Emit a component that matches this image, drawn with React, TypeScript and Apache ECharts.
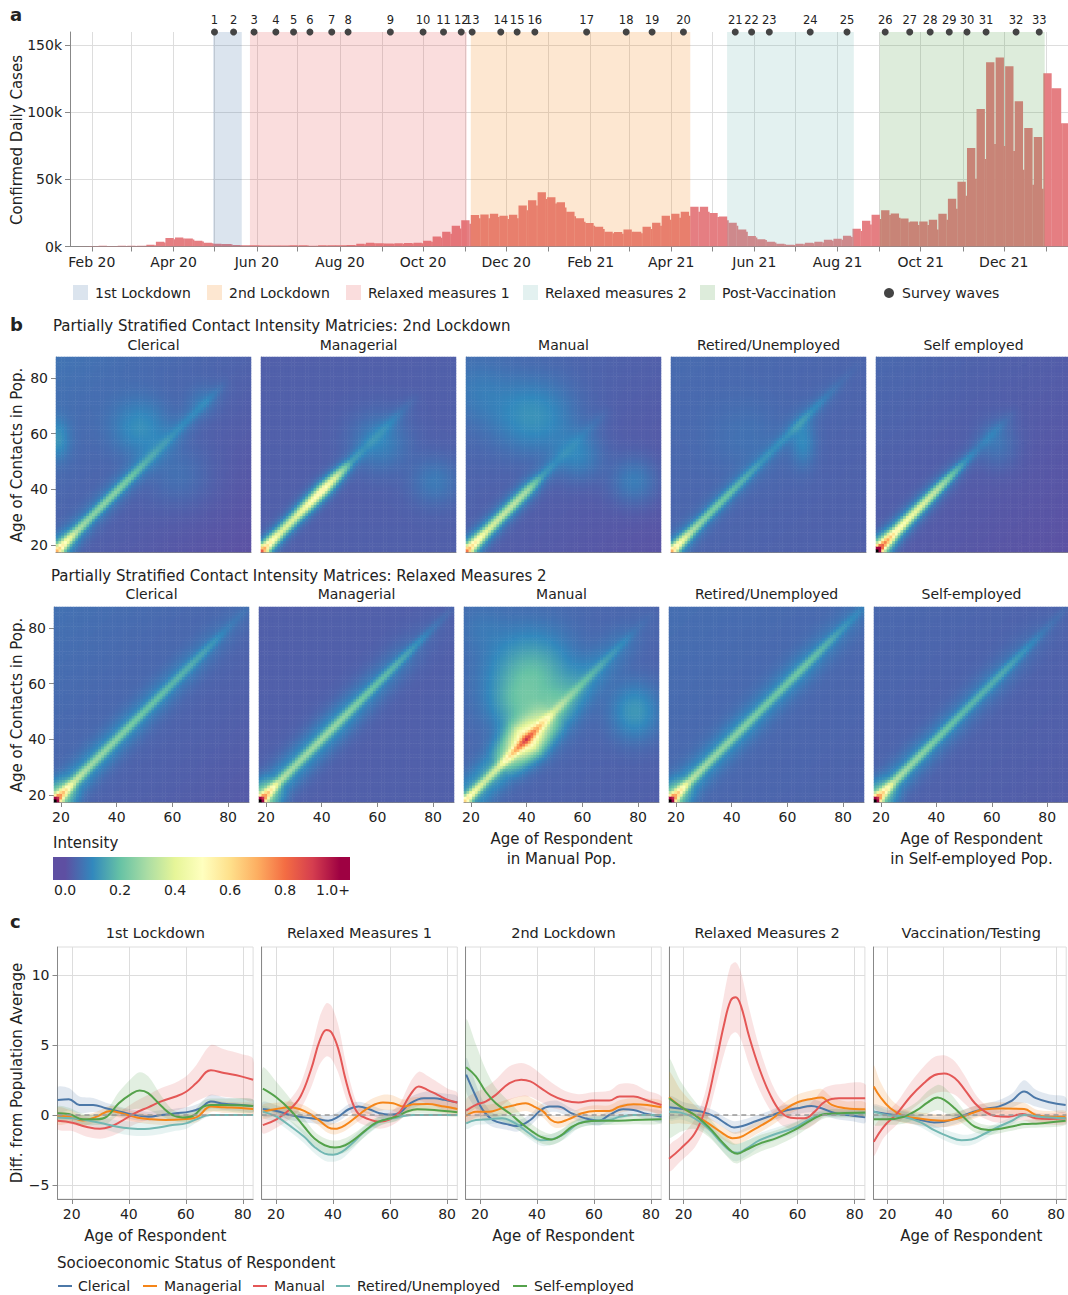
import React, { useEffect, useRef } from 'react';
import * as echarts from 'echarts';

const W = 1068;
const H = 1295;
const FONT = 'DejaVu Sans';
const TXT = '#222';
const AXIS = '#888';
const GRIDC = '#dddddd';
const DAY = 86400000;

// ---------------- Panel a : weekly confirmed daily cases (thousands) ----------------
const WEEK_START = '2020-01-16';
const WEEK_MAIN = [
  0.0, 0.1, 0.4, 0.5, 0.4, 0.5, 0.5, 0.6, 1.3, 3.6,
  6.4, 6.7, 6.0, 4.3, 2.8, 2.1, 1.9, 1.2, 1.0, 0.9,
  0.8, 0.8, 0.8, 0.9, 0.9, 0.5, 0.9, 1.0, 1.0, 1.2,
  2.0, 2.8, 2.5, 2.3, 2.4, 2.6, 2.8, 4.2, 7.5, 11.0,
  15.5, 19.5, 23.5, 23.8, 24.5, 23.0, 23.7, 30.5, 34.5, 40.5,
  36.7, 33.0, 26.0, 21.0, 17.6, 14.8, 11.0, 10.8, 12.6, 11.0,
  14.8, 17.8, 23.0, 24.4, 26.0, 29.6, 29.6, 25.0, 22.4, 17.8,
  12.6, 7.8, 5.5, 3.5, 2.0, 1.3, 2.0, 2.8, 3.5, 5.0,
  5.8, 8.0, 13.3, 19.3, 23.6, 27.0, 24.6, 20.9, 18.6, 18.6,
  20.0, 24.5, 35.6, 48.3, 73.5, 102.5, 137.4, 141.0, 134.4, 108.4,
  88.4, 81.7, 129.2, 118.0, 92.0,
];
const WEEK_LOW = [
  0.0, 0.1, 0.3, 0.4, 0.4, 0.4, 0.4, 0.5, 1.0, 3.0,
  5.5, 6.0, 5.2, 3.8, 2.4, 1.8, 1.6, 1.0, 0.9, 0.8,
  0.7, 0.7, 0.7, 0.8, 0.7, 0.5, 0.8, 0.9, 0.9, 1.0,
  1.7, 2.4, 2.2, 2.0, 2.1, 2.3, 2.5, 3.6, 6.5, 9.5,
  13.5, 17.0, 21.0, 21.0, 22.0, 20.5, 21.0, 27.0, 30.5, 35.5,
  32.0, 29.0, 22.5, 18.5, 15.5, 13.0, 9.8, 9.5, 11.0, 9.8,
  13.0, 15.5, 20.0, 21.5, 23.0, 26.0, 26.0, 22.0, 19.5, 15.5,
  11.0, 6.8, 4.8, 3.0, 1.7, 1.1, 1.7, 2.4, 3.0, 4.3,
  5.0, 7.0, 11.5, 16.5, 20.5, 23.5, 21.5, 18.0, 16.0, 16.0,
  12.6, 20.0, 28.2, 37.9, 50.5, 65.3, 76.5, 75.0, 71.3, 57.2,
  46.0, 43.0, 118.0, 92.0, 92.0,
];
const PERIOD_NAMES = ['1st Lockdown', '2nd Lockdown', 'Relaxed measures 1', 'Relaxed measures 2', 'Post-Vaccination'];
const PERIOD_STARTS = ['2020-04-30', '2020-11-05', '2020-05-27', '2021-05-12', '2021-09-01'];
const PERIOD_ENDS = ['2020-05-21', '2021-04-15', '2020-11-02', '2021-08-13', '2021-12-31'];
const PERIOD_COLORS = ['#4c78a8', '#f58518', '#e45756', '#72b7b2', '#54a24b'];
const WAVE_DATES = [
  '2020-05-01', '2020-05-15', '2020-05-30', '2020-06-15', '2020-06-28', '2020-07-10', '2020-07-26', '2020-08-07',
  '2020-09-07', '2020-10-01', '2020-10-16', '2020-10-29', '2020-11-06', '2020-11-27', '2020-12-09', '2020-12-22',
  '2021-01-29', '2021-02-27', '2021-03-18', '2021-04-10', '2021-05-18', '2021-05-30', '2021-06-12', '2021-07-12',
  '2021-08-08', '2021-09-05', '2021-09-23', '2021-10-08', '2021-10-22', '2021-11-04', '2021-11-18', '2021-12-10',
  '2021-12-27',
];
const CASE_TICKS = [0, 50000, 100000, 150000];
const MONTH_ABBR = ['Jan', 'Feb', 'Mar', 'Apr', 'May', 'Jun', 'Jul', 'Aug', 'Sep', 'Oct', 'Nov', 'Dec'];

// ---------------- Panel b : contact intensity matrices ----------------
const AGES: number[] = [];
for (let a = 18; a <= 87; a++) AGES.push(a);
const AGE_TICKS = [20, 40, 60, 80];
const DIAG_AGES = [18, 19, 20, 25, 30, 35, 40, 45, 50, 55, 60, 65, 70, 75, 80, 87];
const SPECTRAL = ['#5e4fa2', '#3288bd', '#66c2a5', '#abdda4', '#e6f598', '#ffffbf', '#fee08b', '#fdae61', '#f46d43', '#d53e4f', '#9e0142'];

const LD2_CLERICAL = {
  diag: [0.45, 0.4, 0.36, 0.2, 0.16, 0.16, 0.15, 0.12, 0.07, 0.04, 0.03, 0.03, 0.03, 0.02, 0, 0],
  halo: [0.2, 0.18, 0.15, 0.08, 0.06, 0.06, 0.06, 0.05, 0.04, 0.03, 0.03, 0.03, 0.02, 0.01, 0, 0],
  haloW: 4, bg: [0.035, 0.03],
  blobs: [[48, 62, 0.07, 7, 7], [18, 58, 0.07, 3, 5], [70, 72, 0.025, 4, 4], [62, 45, 0.03, 8, 8]],
};
const LD2_MANAGERIAL = {
  diag: [0.55, 0.45, 0.35, 0.22, 0.22, 0.27, 0.3, 0.2, 0.06, 0.02, 0.02, 0.02, 0.01, 0, 0, 0],
  halo: [0.25, 0.22, 0.2, 0.14, 0.14, 0.18, 0.2, 0.12, 0.04, 0.02, 0.02, 0.02, 0.01, 0, 0, 0],
  haloW: 3, bg: [0.03, 0.0],
  blobs: [[60, 57, 0.06, 7, 7], [80, 43, 0.045, 6, 6]],
};
const LD2_MANUAL = {
  diag: [0.55, 0.45, 0.38, 0.25, 0.22, 0.2, 0.16, 0.06, 0.02, 0.01, 0.01, 0.01, 0, 0, 0, 0],
  halo: [0.2, 0.19, 0.18, 0.12, 0.1, 0.1, 0.09, 0.04, 0.02, 0.01, 0.01, 0.01, 0, 0, 0, 0],
  haloW: 3.5, bg: [0.03, 0.02],
  blobs: [[42, 66, 0.08, 10, 9], [58, 52, 0.06, 6, 6], [78, 43, 0.06, 6, 6], [22, 75, 0.03, 8, 8]],
};
const LD2_RETIRED = {
  diag: [0.5, 0.4, 0.35, 0.2, 0.15, 0.13, 0.11, 0.08, 0.05, 0.04, 0.04, 0.05, 0.04, 0.02, 0.01, 0],
  halo: [0.15, 0.13, 0.12, 0.07, 0.05, 0.05, 0.04, 0.03, 0.02, 0.02, 0.02, 0.02, 0.02, 0.01, 0, 0],
  haloW: 3.5, bg: [0.04, 0.01],
  blobs: [[65, 57, 0.06, 3, 6], [45, 58, 0.02, 10, 10]],
};
const LD2_SELF = {
  diag: [1.3, 0.65, 0.5, 0.35, 0.3, 0.26, 0.22, 0.14, 0.06, 0.02, 0.02, 0.01, 0, 0, 0, 0],
  halo: [0.4, 0.35, 0.3, 0.15, 0.12, 0.1, 0.08, 0.05, 0.03, 0.02, 0.02, 0.01, 0, 0, 0, 0],
  haloW: 3.5, bg: [0.025, 0.02],
  blobs: [[62, 56, 0.04, 5, 6]],
};
const RM2_CLERICAL = {
  diag: [1.3, 0.6, 0.45, 0.22, 0.17, 0.15, 0.14, 0.12, 0.11, 0.1, 0.09, 0.08, 0.07, 0.05, 0.02, 0.01],
  halo: [0.35, 0.3, 0.25, 0.1, 0.08, 0.08, 0.07, 0.07, 0.06, 0.06, 0.05, 0.05, 0.04, 0.03, 0.02, 0.01],
  haloW: 5, bg: [0.04, 0.02], blobs: [],
};
const RM2_MANAGERIAL = {
  diag: [1.3, 0.6, 0.45, 0.2, 0.16, 0.16, 0.16, 0.15, 0.14, 0.12, 0.11, 0.1, 0.08, 0.06, 0.03, 0.01],
  halo: [0.35, 0.3, 0.25, 0.1, 0.09, 0.09, 0.09, 0.09, 0.08, 0.07, 0.06, 0.05, 0.04, 0.02, 0.01, 0],
  haloW: 5.5, bg: [0.03, 0.0], blobs: [],
};
const RM2_MANUAL = {
  diag: [0.45, 0.4, 0.35, 0.22, 0.22, 0.3, 0.3, 0.25, 0.14, 0.1, 0.08, 0.07, 0.05, 0.03, 0.01, 0],
  halo: [0.12, 0.11, 0.1, 0.1, 0.12, 0.3, 0.55, 0.3, 0.12, 0.08, 0.06, 0.05, 0.04, 0.03, 0.01, 0],
  haloW: 6, bg: [0.04, 0.01],
  blobs: [[42, 61, 0.16, 10, 11], [36, 52, 0.05, 6, 6], [79, 50, 0.09, 6, 7], [24, 80, 0.02, 6, 6]],
};
const RM2_RETIRED = {
  diag: [1.3, 0.6, 0.45, 0.2, 0.17, 0.15, 0.14, 0.13, 0.12, 0.11, 0.11, 0.11, 0.1, 0.08, 0.05, 0.02],
  halo: [0.35, 0.3, 0.22, 0.09, 0.07, 0.07, 0.07, 0.07, 0.06, 0.06, 0.06, 0.06, 0.05, 0.04, 0.03, 0.02],
  haloW: 5, bg: [0.045, 0.01], blobs: [],
};
const RM2_SELF = {
  diag: [1.3, 0.6, 0.45, 0.2, 0.17, 0.15, 0.13, 0.11, 0.1, 0.09, 0.08, 0.08, 0.06, 0.04, 0.02, 0.01],
  halo: [0.35, 0.3, 0.22, 0.09, 0.07, 0.07, 0.06, 0.06, 0.05, 0.05, 0.05, 0.04, 0.03, 0.02, 0.01, 0],
  haloW: 5, bg: [0.035, 0.01], blobs: [],
};
const ROW1_TITLES = ['Clerical', 'Managerial', 'Manual', 'Retired/Unemployed', 'Self employed'];
const ROW2_TITLES = ['Clerical', 'Managerial', 'Manual', 'Retired/Unemployed', 'Self-employed'];
const COLORBAR_TICKS = ['0.0', '0.2', '0.4', '0.6', '0.8', '1.0+'];

// ---------------- Panel c : difference from population average ----------------
// [age, value, half-width of band]
const L1_CLERICAL = [[15, 1.08, 0.9], [19, 1.13, 0.8], [22.7, 0.72, 0.6], [27.5, 0.72, 0.5], [32, 0.48, 0.4], [37, 0.24, 0.35], [42, 0.0, 0.35], [47, -0.12, 0.35], [51.6, 0.0, 0.35], [56.5, 0.12, 0.35], [61.3, 0.24, 0.35], [65, 0.48, 0.4], [68.8, 0.96, 0.5], [73.5, 0.8, 0.45], [79.4, 0.72, 0.45], [83.6, 0.65, 0.45]];
const L1_MANAGERIAL = [[15, -0.07, 0.6], [19, -0.12, 0.5], [23.9, -0.4, 0.4], [28.7, -0.12, 0.35], [33.5, 0.29, 0.35], [38.4, 0.07, 0.35], [43.2, -0.19, 0.35], [48, -0.31, 0.35], [52.9, -0.36, 0.35], [58.9, -0.31, 0.35], [63.7, -0.17, 0.35], [68.8, 0.6, 0.4], [73.4, 0.55, 0.4], [79.4, 0.5, 0.4], [83.6, 0.43, 0.4]];
const L1_MANUAL = [[15, -0.41, 0.6], [20.2, -0.55, 0.6], [25, -0.84, 0.7], [29.9, -0.99, 0.7], [33.5, -0.84, 0.7], [37.1, -0.48, 0.75], [42, 0.12, 0.8], [46.8, 0.55, 0.9], [51.6, 0.99, 0.95], [56.5, 1.32, 1.0], [60.1, 1.66, 1.1], [63.7, 2.28, 1.3], [68.8, 3.2, 1.8], [73.4, 3.0, 1.7], [79.4, 2.76, 1.6], [83.6, 2.52, 1.5]];
const L1_RETIRED = [[15, -0.17, 0.3], [20.2, -0.24, 0.3], [26.3, -0.41, 0.35], [31.1, -0.6, 0.4], [36, -0.84, 0.45], [40.8, -0.96, 0.5], [45.6, -1.0, 0.5], [50.4, -0.89, 0.5], [55.3, -0.72, 0.45], [60, -0.6, 0.4], [63.7, -0.31, 0.25], [68.5, 0.0, 0.05], [73.4, 0.0, 0.05], [83.6, 0.0, 0.05]];
const L1_SELF = [[15, 0.12, 0.5], [19, 0.07, 0.45], [23.9, -0.31, 0.4], [28.7, -0.31, 0.4], [32.3, -0.12, 0.5], [36.5, 0.84, 0.8], [40.8, 1.49, 1.1], [43.8, 1.75, 1.3], [46.8, 1.56, 1.2], [51.6, 0.6, 0.7], [55.3, 0.0, 0.4], [58.9, -0.17, 0.35], [62.5, -0.07, 0.35], [66.1, 0.6, 0.4], [68.8, 0.72, 0.45], [73.4, 0.72, 0.45], [83.6, 0.65, 0.45]];

const R1_CLERICAL = [[15.4, 0.43, 0.5], [20.2, 0.29, 0.4], [25, 0.0, 0.35], [29.9, -0.17, 0.35], [34.7, -0.29, 0.35], [38.3, -0.41, 0.35], [41.9, -0.12, 0.35], [45.5, 0.41, 0.35], [49, 0.6, 0.35], [52.7, 0.41, 0.35], [56.3, 0.12, 0.35], [60, 0.02, 0.35], [63.5, 0.17, 0.4], [67.1, 0.84, 0.45], [71.9, 1.2, 0.45], [75.5, 1.2, 0.45], [79.1, 1.08, 0.45], [83.6, 0.89, 0.45]];
const R1_MANAGERIAL = [[15.4, 0.24, 0.5], [20.2, 0.43, 0.45], [25, 0.55, 0.4], [29.9, 0.29, 0.4], [34.7, -0.31, 0.4], [38.3, -0.89, 0.4], [40.7, -0.99, 0.4], [44.3, -0.72, 0.4], [49, 0.0, 0.45], [52.7, 0.55, 0.5], [57.5, 0.89, 0.55], [61.1, 0.84, 0.55], [64.7, 0.6, 0.5], [68.3, 0.77, 0.5], [73.1, 0.79, 0.5], [79.1, 0.6, 0.45], [83.6, 0.43, 0.45]];
const R1_MANUAL = [[15.4, -0.72, 0.6], [20.2, -0.31, 0.6], [25, 0.43, 0.7], [28.6, 1.32, 0.9], [32.3, 3.25, 1.3], [35.3, 5.29, 1.7], [37.7, 6.08, 1.9], [39.5, 5.89, 1.9], [41.9, 4.69, 1.7], [44.3, 2.64, 1.3], [46.7, 0.96, 0.9], [49, 0.07, 0.6], [52.7, -0.31, 0.5], [56.3, -0.48, 0.5], [60, -0.31, 0.5], [63.5, 0.24, 0.6], [67.1, 1.44, 0.9], [70.1, 2.04, 1.05], [73.1, 1.8, 1.0], [76.7, 1.44, 0.9], [80.3, 1.08, 0.8], [83.6, 0.89, 0.7]];
const R1_RETIRED = [[15.4, 0.24, 0.4], [20.2, -0.12, 0.4], [25, -0.79, 0.4], [29.9, -1.56, 0.45], [33.5, -2.28, 0.45], [37.1, -2.76, 0.5], [40.1, -2.84, 0.5], [43.1, -2.64, 0.5], [46.7, -2.04, 0.45], [50.3, -1.32, 0.4], [53.9, -0.77, 0.35], [57.5, -0.36, 0.3], [61.1, -0.24, 0.25], [64.7, -0.07, 0.1], [68.3, 0.0, 0.05], [83.6, 0.0, 0.05]];
const R1_SELF = [[15.4, 1.88, 1.5], [20.2, 1.25, 1.1], [25, 0.36, 0.8], [29.9, -0.84, 0.6], [33.5, -1.68, 0.5], [37.1, -2.16, 0.5], [40.7, -2.33, 0.5], [44.3, -2.16, 0.5], [47.9, -1.68, 0.45], [51.5, -1.08, 0.4], [55.1, -0.55, 0.35], [58.7, -0.31, 0.3], [62.3, -0.12, 0.3], [65.9, 0.24, 0.3], [69.5, 0.41, 0.3], [75.5, 0.36, 0.3], [83.6, 0.19, 0.3]];

const L2_CLERICAL = [[15.2, 2.88, 1.2], [18.6, 1.32, 0.9], [21, 0.36, 0.7], [24.6, -0.36, 0.5], [29.4, -0.65, 0.4], [33, -0.79, 0.4], [37.7, -0.36, 0.4], [41.4, 0.36, 0.4], [44.5, 0.6, 0.4], [47.4, 0.6, 0.4], [52.2, 0.12, 0.35], [57, -0.24, 0.35], [61.8, -0.41, 0.35], [65.4, 0.0, 0.35], [70.3, 0.41, 0.4], [73.9, 0.36, 0.4], [78.7, 0.07, 0.4], [83.7, -0.12, 0.4]];
const L2_MANAGERIAL = [[15.2, -0.07, 0.5], [18.6, 0.24, 0.5], [23.2, 0.24, 0.5], [27.8, 0.48, 0.5], [32.5, 0.72, 0.55], [36.1, 0.84, 0.55], [39, 0.6, 0.5], [42.3, 0.24, 0.45], [45, -0.36, 0.4], [47.4, -0.53, 0.4], [51, -0.31, 0.4], [55.8, 0.12, 0.4], [60.6, 0.29, 0.4], [65.4, 0.29, 0.4], [69, 0.6, 0.45], [73.9, 0.77, 0.45], [78.7, 0.72, 0.45], [83.7, 0.55, 0.45]];
const L2_MANUAL = [[15.2, 0.31, 0.8], [18.6, 0.72, 0.9], [22, 0.96, 1.0], [25.6, 1.44, 1.1], [30.4, 2.28, 1.2], [34.5, 2.52, 1.2], [37.7, 2.4, 1.1], [41.4, 1.92, 1.0], [45, 1.44, 0.9], [49.8, 1.03, 0.7], [54.6, 0.89, 0.6], [59.4, 1.03, 0.6], [65.4, 1.03, 0.7], [69, 1.32, 0.9], [73.9, 1.32, 0.9], [78.7, 1.03, 0.7], [83.7, 0.72, 0.6]];
const L2_RETIRED = [[15.2, -0.6, 0.4], [18.6, -0.36, 0.35], [23.2, -0.31, 0.35], [27.8, -0.24, 0.35], [32.5, -0.6, 0.35], [37.4, -1.32, 0.4], [41.4, -1.8, 0.4], [45, -1.75, 0.4], [49.8, -1.32, 0.4], [54.6, -0.6, 0.35], [59.4, -0.41, 0.3], [65.4, -0.36, 0.3], [69, -0.12, 0.2], [73.9, 0.0, 0.05], [83.7, 0.0, 0.05]];
const L2_SELF = [[15.2, 3.41, 3.4], [18.6, 2.76, 2.3], [22, 1.68, 1.6], [25.6, 0.84, 1.1], [30.4, 0.12, 0.8], [35.3, -0.72, 0.6], [38.5, -1.2, 0.5], [41.4, -1.56, 0.45], [45, -1.75, 0.4], [48.6, -1.44, 0.4], [52.2, -0.84, 0.35], [57, -0.48, 0.3], [61.8, -0.41, 0.3], [66.6, -0.41, 0.3], [73.9, -0.36, 0.3], [83.7, -0.31, 0.3]];

const R2_CLERICAL = [[14.9, 0.55, 0.8], [20.2, 0.41, 0.5], [26.3, 0.24, 0.4], [31.1, -0.12, 0.4], [34.7, -0.6, 0.4], [37.7, -0.89, 0.45], [40.7, -0.79, 0.45], [45.5, -0.43, 0.4], [50.4, -0.07, 0.4], [55.2, 0.29, 0.4], [60, 0.48, 0.4], [64.8, 0.65, 0.45], [68.4, 0.48, 0.45], [73.3, 0.12, 0.4], [79.3, -0.05, 0.4], [83.7, -0.17, 0.4]];
const R2_MANAGERIAL = [[14.9, 1.27, 1.8], [19, 0.6, 1.2], [23.9, 0.0, 0.7], [28.7, -0.6, 0.5], [33.5, -1.27, 0.45], [37.1, -1.66, 0.45], [39.5, -1.61, 0.45], [44.3, -1.08, 0.45], [50.4, -0.36, 0.45], [55.2, 0.36, 0.5], [60, 0.91, 0.55], [64.8, 1.15, 0.6], [68.4, 1.25, 0.6], [72, 0.72, 0.55], [76.9, 0.48, 0.5], [83.7, 0.41, 0.5]];
const R2_MANUAL = [[14.9, -3.13, 0.9], [19, -2.4, 0.9], [23.9, -1.32, 1.0], [27.5, 0.36, 1.2], [31.1, 3.49, 1.6], [34.1, 6.37, 2.1], [36.5, 8.17, 2.5], [38.3, 8.41, 2.5], [40.1, 7.81, 2.4], [43.1, 5.53, 2.0], [46.7, 3.25, 1.5], [50.4, 1.44, 1.1], [54, 0.24, 0.9], [57.6, -0.19, 0.8], [62.4, -0.24, 0.8], [66, 0.24, 0.9], [69.6, 0.96, 1.0], [74.5, 1.2, 1.0], [83.7, 1.2, 1.0]];
const R2_RETIRED = [[14.9, 0.24, 0.6], [19, 0.17, 0.5], [23.9, -0.24, 0.45], [28.7, -0.96, 0.45], [33.5, -2.04, 0.5], [37.1, -2.64, 0.6], [38.9, -2.69, 0.6], [42, -2.4, 0.55], [46.7, -1.8, 0.5], [52.8, -1.32, 0.45], [58.8, -0.91, 0.4], [64.8, -0.24, 0.3], [69.6, 0.05, 0.2], [74.5, 0.07, 0.2], [83.7, 0.12, 0.2]];
const R2_SELF = [[14.9, 1.2, 2.8], [19, 0.6, 1.8], [23.9, 0.0, 1.0], [28.7, -0.84, 0.7], [33.5, -1.92, 0.65], [37.1, -2.64, 0.7], [38.9, -2.76, 0.7], [42, -2.48, 0.65], [46.7, -2.04, 0.6], [52.8, -1.63, 0.55], [58.8, -1.08, 0.5], [64.8, -0.36, 0.4], [69.6, 0.07, 0.3], [74.5, 0.12, 0.3], [83.7, 0.17, 0.3]];

const VT_CLERICAL = [[15.1, 0.24, 0.5], [19.8, 0.07, 0.45], [25.8, -0.12, 0.4], [31.8, -0.36, 0.4], [36.6, -0.53, 0.4], [40.2, -0.48, 0.4], [45.1, -0.17, 0.4], [49.9, 0.19, 0.4], [54.7, 0.43, 0.4], [59.5, 0.6, 0.45], [64.3, 1.03, 0.5], [68.6, 1.68, 0.8], [72.8, 1.2, 0.6], [77.6, 0.91, 0.55], [83.4, 0.72, 0.55]];
const VT_MANAGERIAL = [[15.1, 2.04, 1.5], [17.3, 1.32, 1.1], [21, 0.48, 0.7], [25.8, -0.07, 0.5], [30.6, -0.24, 0.45], [35.4, -0.36, 0.45], [40.2, -0.41, 0.45], [45.1, -0.24, 0.45], [49.9, 0.12, 0.45], [54.7, 0.41, 0.45], [60.7, 0.46, 0.45], [68.6, 0.43, 0.45], [72.8, 0.0, 0.4], [77.6, -0.12, 0.4], [83.4, -0.12, 0.4]];
const VT_MANUAL = [[15.1, -1.92, 1.0], [18.6, -0.84, 0.8], [23.4, 0.12, 0.8], [28.2, 1.32, 1.0], [33, 2.28, 1.2], [36.6, 2.84, 1.3], [40.2, 2.96, 1.3], [43.9, 2.64, 1.2], [47.5, 1.8, 1.0], [51.1, 0.84, 0.7], [54.7, 0.24, 0.5], [58.3, -0.07, 0.45], [63.1, -0.12, 0.45], [68, 0.07, 0.45], [72.8, -0.24, 0.4], [77.6, -0.29, 0.4], [83.4, -0.24, 0.4]];
const VT_RETIRED = [[15.1, 0.24, 0.4], [19.8, 0.0, 0.35], [25.8, -0.12, 0.35], [31.8, -0.53, 0.35], [36.6, -1.08, 0.35], [41.4, -1.51, 0.4], [46.3, -1.8, 0.4], [49.9, -1.75, 0.4], [54.7, -1.32, 0.35], [59.5, -0.84, 0.3], [64.3, -0.41, 0.25], [68.6, 0.0, 0.15], [74, -0.12, 0.15], [83.4, -0.24, 0.15]];
const VT_SELF = [[15.1, -0.31, 0.4], [19.8, -0.31, 0.4], [25.8, -0.12, 0.5], [30.6, 0.36, 0.6], [34.2, 0.89, 0.8], [37.8, 1.25, 0.9], [40.2, 1.08, 0.9], [43.9, 0.48, 0.7], [47.5, -0.24, 0.5], [51.1, -0.84, 0.4], [55.9, -1.08, 0.35], [60.7, -0.96, 0.3], [65.5, -0.77, 0.3], [68.6, -0.65, 0.3], [74, -0.6, 0.3], [83.4, -0.41, 0.3]];

const C_TITLES = ['1st Lockdown', 'Relaxed Measures 1', '2nd Lockdown', 'Relaxed Measures 2', 'Vaccination/Testing'];
const SES_NAMES = ['Clerical', 'Managerial', 'Manual', 'Retired/Unemployed', 'Self-employed'];
const SES_COLORS = ['#4c78a8', '#f58518', '#e45756', '#72b7b2', '#54a24b'];
const DIFF_TICKS = [-5, 0, 5, 10];

// ---------------- helpers ----------------
function toTime(s: string) {
  const [y, m, d] = s.split('-').map(Number);
  return new Date(y, m - 1, d).getTime();
}
function rgba(hex: string, a: number) {
  const n = parseInt(hex.slice(1), 16);
  return `rgba(${(n >> 16) & 255},${(n >> 8) & 255},${n & 255},${a})`;
}
function lerp(xs: number[], ys: number[], x: number) {
  if (x <= xs[0]) return ys[0];
  for (let i = 1; i < xs.length; i++) {
    if (x <= xs[i]) {
      const t = (x - xs[i - 1]) / (xs[i] - xs[i - 1]);
      return ys[i - 1] + t * (ys[i] - ys[i - 1]);
    }
  }
  return ys[ys.length - 1];
}
const NARROW_W = 1.5;
function heatData(p: any) {
  const out: number[][] = [];
  for (let i = 0; i < AGES.length; i++) {
    for (let j = 0; j < AGES.length; j++) {
      const x = AGES[i], y = AGES[j];
      const m = (x + y) / 2, d = x - y;
      let v = p.bg[0] + p.bg[1] * (y - x) / 69;
      v += lerp(DIAG_AGES, p.diag, m) * Math.exp(-(d * d) / (2 * NARROW_W * NARROW_W));
      v += lerp(DIAG_AGES, p.halo, m) * Math.exp(-(d * d) / (2 * p.haloW * p.haloW));
      for (const b of p.blobs) {
        v += b[2] * Math.exp(-((x - b[0]) ** 2) / (2 * b[3] * b[3]) - ((y - b[1]) ** 2) / (2 * b[4] * b[4]));
      }
      if (v < 0) v = 0;
      if (v > 1 && v < 1.2) v = 1;
      if (v >= 1.2) v = 1.2;
      out.push([i, j, +v.toFixed(4)]);
    }
  }
  return out;
}

function buildOption() {
  const T0 = toTime(WEEK_START);
  const T1 = T0 + 732.1 * DAY;
  const monthTicks: number[] = [];
  const monthLabels: number[] = [];
  for (let i = 0; i < 24; i++) {
    const t = new Date(2020, 1 + i, 1).getTime();
    monthTicks.push(t);
    if (i % 2 === 0) monthLabels.push(t);
  }
  const fmtMonth = (v: number) => {
    const dt = new Date(v);
    return MONTH_ABBR[dt.getMonth()] + ' ' + String(dt.getFullYear()).slice(2);
  };

  const grid: any[] = [];
  const xAxis: any[] = [];
  const yAxis: any[] = [];
  const series: any[] = [];
  const graphic: any[] = [];
  const lbl = { fontFamily: FONT, fontSize: 14, color: TXT };

  // ---- Panel a ----
  grid.push({ left: 70, top: 32, width: 998, height: 214.5 });
  xAxis.push({
    type: 'value', gridIndex: 0, min: T0, max: T1,
    axisLine: { show: true, onZero: false, lineStyle: { color: AXIS } },
    axisTick: { show: true, length: 5, customValues: monthTicks, lineStyle: { color: AXIS } },
    axisLabel: { ...lbl, margin: 8, customValues: monthLabels, formatter: fmtMonth },
    splitLine: { show: true, lineStyle: { color: GRIDC } },
  });
  yAxis.push({
    type: 'value', gridIndex: 0, min: 0, max: 160000,
    axisLine: { show: true, onZero: false, lineStyle: { color: AXIS } },
    axisTick: { show: true, length: 5, customValues: CASE_TICKS, lineStyle: { color: AXIS } },
    axisLabel: { ...lbl, margin: 8, customValues: CASE_TICKS, formatter: (v: number) => v / 1000 + 'k' },
    splitLine: { show: true, lineStyle: { color: GRIDC } },
  });
  const BAR_COLOR = '#e57e82';
  series.push({
    type: 'custom', xAxisIndex: 0, yAxisIndex: 0, z: 2, clip: true, silent: true,
    data: WEEK_MAIN.map((v, k) => [T0 + k * 7 * DAY, v * 1000, WEEK_LOW[k] * 1000]),
    encode: { x: 0, y: 1 },
    renderItem: (params: any, api: any) => {
      const t = api.value(0), hi = api.value(1), lo = api.value(2);
      const base = api.coord([t, 0]);
      const a = api.coord([t + 5.9 * DAY, hi]);
      const b = api.coord([t + 7 * DAY, lo]);
      return {
        type: 'group',
        children: [
          { type: 'rect', shape: { x: base[0], y: a[1], width: a[0] - base[0] + 0.3, height: base[1] - a[1] }, style: { fill: BAR_COLOR } },
          { type: 'rect', shape: { x: a[0], y: b[1], width: b[0] - a[0] + 0.3, height: base[1] - b[1] }, style: { fill: BAR_COLOR } },
        ],
      };
    },
  });
  // period shading drawn over the bars
  series.push({
    type: 'custom', xAxisIndex: 0, yAxisIndex: 0, z: 5, clip: true, silent: true,
    data: PERIOD_STARTS.map((s, i) => [toTime(s), toTime(PERIOD_ENDS[i]), i]),
    encode: { x: [0, 1] },
    renderItem: (params: any, api: any) => {
      const a = api.coord([api.value(0), 160000]);
      const b = api.coord([api.value(1), 0]);
      return {
        type: 'rect', shape: { x: a[0], y: a[1], width: b[0] - a[0], height: b[1] - a[1] },
        style: { fill: rgba(PERIOD_COLORS[api.value(2)], 0.2) },
      };
    },
  });
  series.push({
    type: 'scatter', xAxisIndex: 0, yAxisIndex: 0, z: 6, clip: false, symbolSize: 7, silent: true,
    itemStyle: { color: '#444', opacity: 1 },
    label: { show: true, position: 'top', distance: 3, fontFamily: FONT, fontSize: 11.5, color: TXT, formatter: (p: any) => String(p.data[2]) },
    data: WAVE_DATES.map((s, i) => [toTime(s), 160000, i + 1]),
  });

  // ---- Panel b ----
  const heatPanels = [
    [LD2_CLERICAL, LD2_MANAGERIAL, LD2_MANUAL, LD2_RETIRED, LD2_SELF],
    [RM2_CLERICAL, RM2_MANAGERIAL, RM2_MANUAL, RM2_RETIRED, RM2_SELF],
  ];
  const tickFn = (idx: number, val: any) => AGE_TICKS.includes(Number(val));
  const heatSeriesIdx: number[] = [];
  heatPanels.forEach((row, r) => {
    const top = r === 0 ? 357 : 607;
    const lefts = r === 0 ? [56, 261, 466, 671, 876] : [54, 259, 464, 669, 874];
    row.forEach((p, c) => {
      const gi = grid.length;
      grid.push({ left: lefts[c], top, width: 195, height: 195 });
      xAxis.push({
        type: 'category', gridIndex: gi, data: AGES, boundaryGap: true,
        axisLine: { show: true, lineStyle: { color: AXIS } },
        axisTick: { show: r === 1, interval: tickFn, alignWithLabel: true, length: 5, lineStyle: { color: AXIS } },
        axisLabel: { show: r === 1, interval: tickFn, ...lbl, margin: 8 },
        splitLine: { show: false },
      });
      yAxis.push({
        type: 'category', gridIndex: gi, data: AGES, boundaryGap: true,
        axisLine: { show: true, lineStyle: { color: AXIS } },
        axisTick: { show: c === 0, interval: tickFn, alignWithLabel: true, length: 5, lineStyle: { color: AXIS } },
        axisLabel: { show: c === 0, interval: tickFn, ...lbl, margin: 8 },
        splitLine: { show: false },
      });
      heatSeriesIdx.push(series.length);
      series.push({
        type: 'heatmap', xAxisIndex: gi, yAxisIndex: gi, data: heatData(p),
        progressive: 0, silent: true, emphasis: { disabled: true }, itemStyle: { borderWidth: 0 },
      });
    });
  });

  // ---- Panel c ----
  const panelC = [
    [L1_CLERICAL, L1_MANAGERIAL, L1_MANUAL, L1_RETIRED, L1_SELF],
    [R1_CLERICAL, R1_MANAGERIAL, R1_MANUAL, R1_RETIRED, R1_SELF],
    [L2_CLERICAL, L2_MANAGERIAL, L2_MANUAL, L2_RETIRED, L2_SELF],
    [R2_CLERICAL, R2_MANAGERIAL, R2_MANUAL, R2_RETIRED, R2_SELF],
    [VT_CLERICAL, VT_MANAGERIAL, VT_MANUAL, VT_RETIRED, VT_SELF],
  ];
  const cLefts = [57.5, 261.7, 465.6, 669.3, 873.5];
  panelC.forEach((panel, g) => {
    const gi = grid.length;
    grid.push({ left: cLefts[g], top: 947, width: 195.6, height: 252, show: true, borderColor: '#dddddd', borderWidth: 1 });
    xAxis.push({
      type: 'value', gridIndex: gi, min: 15, max: 83.6,
      axisLine: { show: true, onZero: false, lineStyle: { color: AXIS } },
      axisTick: { show: true, length: 5, customValues: AGE_TICKS, lineStyle: { color: AXIS } },
      axisLabel: { ...lbl, margin: 8, customValues: AGE_TICKS },
      splitLine: { show: true, lineStyle: { color: GRIDC } },
    });
    yAxis.push({
      type: 'value', gridIndex: gi, min: -6, max: 12,
      axisLine: { show: true, onZero: false, lineStyle: { color: AXIS } },
      axisTick: { show: g === 0, length: 5, customValues: DIFF_TICKS, lineStyle: { color: AXIS } },
      axisLabel: {
        show: g === 0, ...lbl, margin: 8, customValues: DIFF_TICKS,
        formatter: (v: number) => (v < 0 ? '\u2212' + Math.abs(v) : String(v)),
      },
      splitLine: { show: true, lineStyle: { color: GRIDC } },
    });
    series.push({
      type: 'line', xAxisIndex: gi, yAxisIndex: gi, data: [], z: 3, silent: true,
      markLine: {
        silent: true, symbol: 'none', label: { show: false },
        lineStyle: { color: '#999', type: [5, 4], width: 1.5 },
        data: [{ yAxis: 0 }],
      },
    });
    panel.forEach((arr, s) => {
      series.push({
        type: 'custom', xAxisIndex: gi, yAxisIndex: gi, z: 2, silent: true, clip: true,
        data: [[arr[0][0], arr[0][1]]],
        encode: { x: 0, y: 1 },
        renderItem: (params: any, api: any) => {
          const up = arr.map((d) => api.coord([d[0], d[1] + d[2]]));
          const lo = arr.map((d) => api.coord([d[0], d[1] - d[2]])).reverse();
          return {
            type: 'polygon',
            shape: { points: up.concat(lo), smooth: 0.3 },
            style: { fill: rgba(SES_COLORS[s], 0.17) },
          };
        },
      });
    });
    panel.forEach((arr, s) => {
      series.push({
        type: 'line', xAxisIndex: gi, yAxisIndex: gi, smooth: 0.4, symbol: 'none', silent: true, z: 4,
        lineStyle: { color: SES_COLORS[s], width: 2 },
        data: arr.map((d) => [d[0], d[1]]),
      });
    });
  });

  // ---- Graphic texts ----
  const text = (t: string, x: number, y: number, opts: any = {}) => ({
    type: 'text', x, y, rotation: opts.rotation || 0, silent: true,
    style: {
      text: t, fill: TXT, fontFamily: FONT, fontSize: opts.size || 14, fontWeight: opts.weight || 'normal',
      align: opts.align || 'left', verticalAlign: 'middle',
    },
  });
  graphic.push(text('a', 10, 14, { size: 18, weight: 'bold' }));
  graphic.push(text('b', 10, 324, { size: 18, weight: 'bold' }));
  graphic.push(text('c', 10, 921, { size: 18, weight: 'bold' }));
  graphic.push(text('Confirmed Daily Cases', 17, 140, { size: 15, align: 'center', rotation: Math.PI / 2 }));

  // legend a
  const legA = [
    { i: 0, sx: 73, tx: 95 },
    { i: 1, sx: 207, tx: 229 },
    { i: 2, sx: 346, tx: 368 },
    { i: 3, sx: 523, tx: 545 },
    { i: 4, sx: 700, tx: 722 },
  ];
  legA.forEach((l) => {
    graphic.push({ type: 'rect', silent: true, shape: { x: l.sx, y: 285, width: 15, height: 15 }, style: { fill: rgba(PERIOD_COLORS[l.i], 0.2) } });
    graphic.push(text(PERIOD_NAMES[l.i], l.tx, 293));
  });
  graphic.push({ type: 'circle', silent: true, shape: { cx: 889, cy: 293, r: 5 }, style: { fill: '#444' } });
  graphic.push(text('Survey waves', 902, 293));

  // panel b texts
  graphic.push(text('Partially Stratified Contact Intensity Matricies: 2nd Lockdown', 53, 326, { size: 15 }));
  graphic.push(text('Partially Stratified Contact Intensity Matrices: Relaxed Measures 2', 51, 576, { size: 15 }));
  ROW1_TITLES.forEach((t, c) => graphic.push(text(t, [56, 261, 466, 671, 876][c] + 97.5, 345, { align: 'center' })));
  ROW2_TITLES.forEach((t, c) => graphic.push(text(t, [54, 259, 464, 669, 874][c] + 97.5, 594, { align: 'center' })));
  graphic.push(text('Age of Contacts in Pop.', 17, 455, { size: 15, align: 'center', rotation: Math.PI / 2 }));
  graphic.push(text('Age of Contacts in Pop.', 17, 705, { size: 15, align: 'center', rotation: Math.PI / 2 }));
  graphic.push(text('Age of Respondent', 561.5, 839, { size: 15, align: 'center' }));
  graphic.push(text('in Manual Pop.', 561.5, 859, { size: 15, align: 'center' }));
  graphic.push(text('Age of Respondent', 971.5, 839, { size: 15, align: 'center' }));
  graphic.push(text('in Self-employed Pop.', 971.5, 859, { size: 15, align: 'center' }));

  // colorbar
  graphic.push(text('Intensity', 53, 843, { size: 15 }));
  const stops: any[] = [{ offset: 0, color: SPECTRAL[0] }];
  SPECTRAL.forEach((c, i) => stops.push({ offset: (12 + 275 * (i / 10)) / 297, color: c }));
  stops.push({ offset: 1, color: SPECTRAL[10] });
  graphic.push({
    type: 'rect', silent: true, shape: { x: 53, y: 857, width: 297, height: 23 },
    style: { fill: { type: 'linear', x: 0, y: 0, x2: 1, y2: 0, colorStops: stops } },
  });
  COLORBAR_TICKS.forEach((t, i) => {
    if (i === 0) graphic.push(text(t, 54, 890));
    else if (i === COLORBAR_TICKS.length - 1) graphic.push(text(t, 350, 890, { align: 'right' }));
    else graphic.push(text(t, 65 + 55 * i, 890, { align: 'center' }));
  });

  // panel c texts
  C_TITLES.forEach((t, g) => graphic.push(text(t, cLefts[g] + 97.8, 933, { size: 14.5, align: 'center' })));
  graphic.push(text('Diff. from Population Average', 17, 1073, { size: 15, align: 'center', rotation: Math.PI / 2 }));
  [0, 2, 4].forEach((g) => graphic.push(text('Age of Respondent', cLefts[g] + 97.8, 1236, { size: 15, align: 'center' })));
  graphic.push(text('Socioeconomic Status of Respondent', 57, 1263, { size: 15 }));
  const legC = [[58, 78], [143, 164], [253, 274], [336, 357], [513, 534]];
  legC.forEach(([sx, tx], s) => {
    graphic.push({ type: 'line', silent: true, shape: { x1: sx, y1: 1286, x2: sx + 14, y2: 1286 }, style: { stroke: SES_COLORS[s], lineWidth: 2 } });
    graphic.push(text(SES_NAMES[s], tx, 1286));
  });

  return {
    animation: false,
    backgroundColor: '#ffffff',
    textStyle: { fontFamily: FONT },
    grid,
    xAxis,
    yAxis,
    visualMap: [{
      type: 'continuous', show: false, min: 0, max: 1.2, seriesIndex: heatSeriesIdx,
      inRange: { color: [...SPECTRAL, '#9e0142', '#000000'] },
    }],
    series,
    graphic,
  };
}

export default function App() {
  const ref = useRef<HTMLDivElement>(null);
  useEffect(() => {
    document.body.style.margin = '0';
    const chart = echarts.init(ref.current as HTMLDivElement, null, { renderer: 'svg', width: W, height: H });
    chart.setOption(buildOption() as any);
    return () => chart.dispose();
  }, []);
  return <div ref={ref} style={{ width: W, height: H }} />;
}
